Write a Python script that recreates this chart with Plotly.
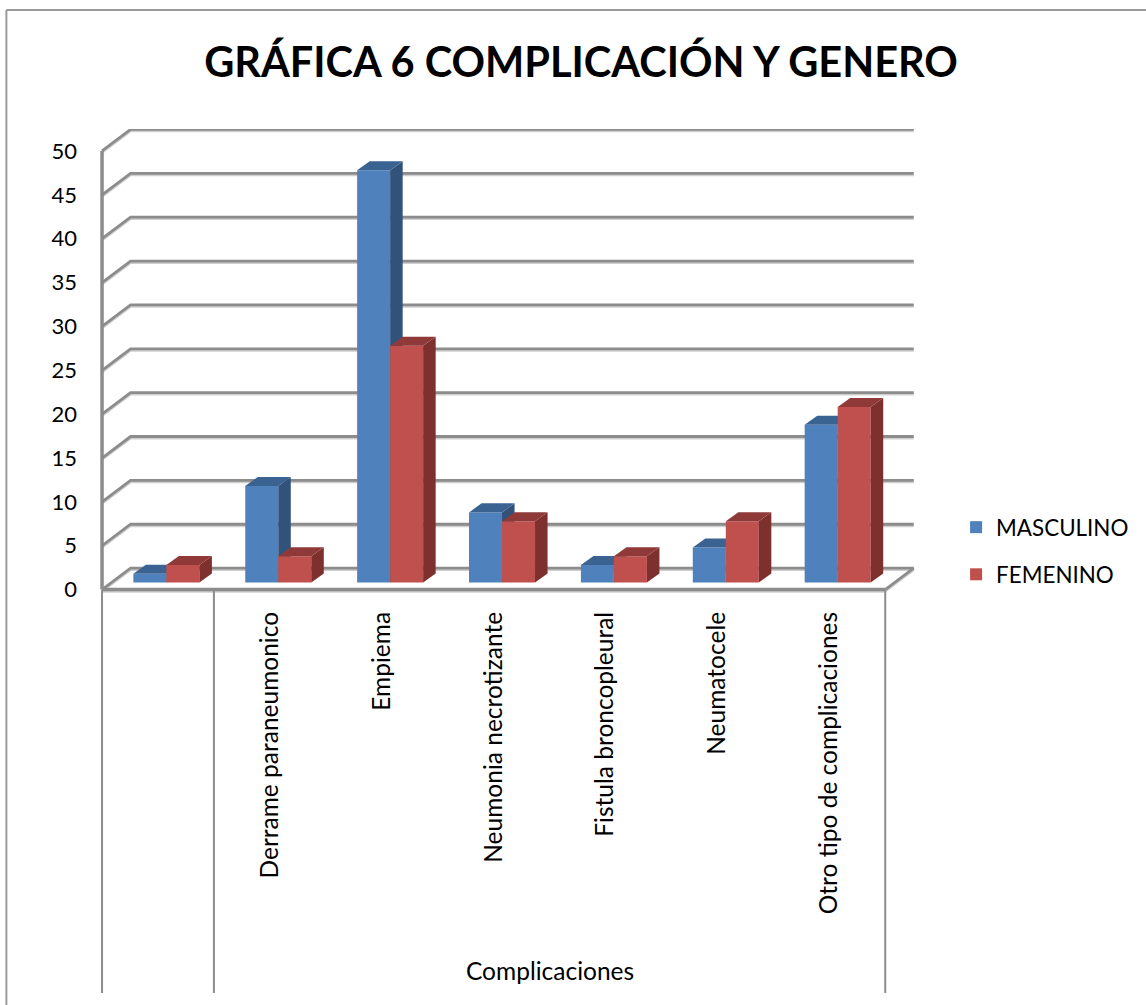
import plotly.graph_objects as go

# -----------------------------
# Data
# -----------------------------
categories = ["", "Derrame paraneumonico", "Empiema", "Neumonia necrotizante",
              "Fistula broncopleural", "Neumatocele", "Otro tipo de complicaciones"]
masculino = [1, 11, 47, 8, 2, 4, 18]
femenino = [2, 3, 27, 7, 3, 7, 20]
y_ticks = [0, 5, 10, 15, 20, 25, 30, 35, 40, 45, 50]

FONT = "Lato"
GRID = "#8c8c8c"
SHADOW = "#cfcfcf"

# fake 3D depth, in axis units
WALL_DX, WALL_DY = 0.255, 2.45     # front plane -> back wall
BAR_X, BAR_Y = 0.075, 0.8          # front plane -> bar front face
SIDE_DX, SIDE_DY = 0.112, 1.03     # bar depth
BAR_W = 0.295

fig = go.Figure()


def wall_line(xs, ys, width=2.8):
    # light shadow first, dark line on top
    fig.add_trace(go.Scatter(x=xs, y=[v - 0.17 for v in ys], mode="lines", showlegend=False,
                             hoverinfo="skip", line=dict(color=SHADOW, width=width)))
    fig.add_trace(go.Scatter(x=xs, y=ys, mode="lines", showlegend=False,
                             hoverinfo="skip", line=dict(color=GRID, width=width)))


# -----------------------------
# Walls and gridlines
# -----------------------------
left = -0.5
right = len(categories) - 0.5
for v in y_ticks:
    wall_line([left, left + WALL_DX, right + WALL_DX], [v, v + WALL_DY, v + WALL_DY])
wall_line([right, right + WALL_DX], [0, WALL_DY])
wall_line([left, right], [0, 0], width=3.5)
fig.add_trace(go.Scatter(x=[left, left], y=[0, y_ticks[-1]], mode="lines", showlegend=False,
                         hoverinfo="skip", line=dict(color=GRID, width=3.5)))


# -----------------------------
# Bars, one overlay subplot per series so red covers blue's side
# -----------------------------
def add_series(name, values, shift, axis, front, side, top):
    xa, ya = "x" + axis, "y" + axis
    xs = [i + shift + BAR_X for i in range(len(values))]
    fig.add_trace(go.Bar(x=xs, y=values, base=[BAR_Y] * len(values), width=BAR_W, name=name,
                         legendgroup=name, marker=dict(color=front, line=dict(width=0)),
                         xaxis=xa, yaxis=ya))
    for x, v in zip(xs, values):
        l = x - BAR_W / 2
        r = x + BAR_W / 2
        t = v + BAR_Y
        fig.add_trace(go.Scatter(
            x=[r, r + SIDE_DX, r + SIDE_DX, r, r], y=[BAR_Y, BAR_Y + SIDE_DY, t + SIDE_DY, t, BAR_Y],
            mode="lines", fill="toself", fillcolor=side, line=dict(width=0),
            showlegend=False, hoverinfo="skip", xaxis=xa, yaxis=ya))
        fig.add_trace(go.Scatter(
            x=[l, l + SIDE_DX, r + SIDE_DX, r, l], y=[t, t + SIDE_DY, t + SIDE_DY, t, t],
            mode="lines", fill="toself", fillcolor=top, line=dict(width=0),
            showlegend=False, hoverinfo="skip", xaxis=xa, yaxis=ya))


add_series("MASCULINO", masculino, -BAR_W / 2, "2", "#4F81BD", "#31527A", "#3B6392")
add_series("FEMENINO", femenino, BAR_W / 2, "3", "#C0504D", "#7D302E", "#8F3A38")

# -----------------------------
# Category separators and chart border
# -----------------------------
shapes = []
for x in [left, 0.5, right]:
    shapes.append(dict(type="line", xref="x", yref="paper", x0=x, x1=x, y0=0.0086, y1=-0.858,
                       line=dict(color=GRID, width=2)))
shapes.append(dict(type="line", xref="paper", yref="paper", x0=-0.112, x1=1.3, y0=1.256, y1=1.256,
                   line=dict(color="#9a9a9a", width=2)))
shapes.append(dict(type="line", xref="paper", yref="paper", x0=-0.112, x1=-0.112, y0=1.256, y1=-0.884,
                   line=dict(color="#9a9a9a", width=2)))

# ranges run a little past the axes so the thick front lines are not clipped
x_range = [left - 0.036, right + WALL_DX + 0.02]
y_range = [-0.5, 52.5]
hidden = dict(visible=False, overlaying="x", range=x_range)
hidden_y = dict(visible=False, overlaying="y", range=y_range)

fig.update_layout(
    width=1146, height=1005,
    margin=dict(l=98, r=230, t=129, b=411, autoexpand=False),
    paper_bgcolor="white", plot_bgcolor="white",
    barmode="overlay",
    font=dict(family=FONT, color="black"),
    title=dict(text="<b>GRÁFICA 6 COMPLICACIÓN Y GENERO</b>", font=dict(family=FONT, size=41.5, color="black"),
               x=581 / 1146, xanchor="center", y=1 - 62 / 1005, yanchor="middle"),
    xaxis=dict(range=x_range, tickmode="array", tickvals=list(range(len(categories))), ticktext=categories,
               tickangle=-90, tickfont=dict(family=FONT, size=24.5), showgrid=False, zeroline=False,
               showline=False, ticks="", ticklabelstandoff=12),
    yaxis=dict(range=y_range, tickmode="array", tickvals=y_ticks, tickfont=dict(family=FONT, size=22),
               showgrid=False, zeroline=False, showline=False, ticks="", ticklabelstandoff=20),
    xaxis2=hidden, xaxis3=hidden, yaxis2=hidden_y, yaxis3=hidden_y,
    legend=dict(x=1.049, y=0.189, xanchor="left", yanchor="top", font=dict(family=FONT, size=22.4),
                bgcolor="rgba(0,0,0,0)", tracegroupgap=15, traceorder="grouped", itemwidth=30),
    annotations=[dict(text="Complicaciones", xref="x", yref="paper", x=3.5, y=-0.809, showarrow=False,
                      font=dict(family=FONT, size=24.5), xanchor="center", yanchor="middle")],
    shapes=shapes,
)

# the page's default body margin would shift the chart by 8px
fig.write_html("out.html", config=dict(displayModeBar=False),
               post_script="document.body.style.margin='0';document.body.style.overflow='hidden';")
